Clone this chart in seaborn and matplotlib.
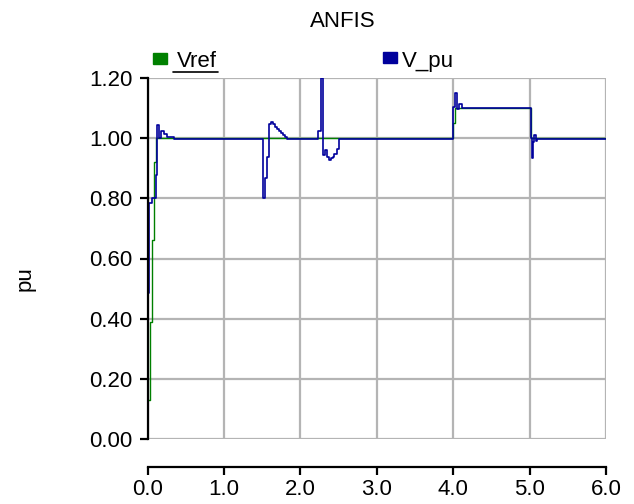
import numpy as np
import seaborn as sns
import matplotlib.pyplot as plt
from matplotlib.patches import Rectangle
from matplotlib.lines import Line2D

# reference voltage (pu) - step changes
t_ref = [0.0, 0.03, 0.055, 0.08, 0.105, 3.995, 4.02, 5.015, 6.0]
v_ref = [0.13, 0.39, 0.66, 0.92, 1.00, 1.05, 1.10, 1.00, 1.00]

t_pu = [0.0, 0.024, 0.055, 0.107, 0.128, 0.15, 0.18, 0.21, 0.26, 0.35,
        1.516, 1.542, 1.568, 1.594, 1.62, 1.645, 1.67, 1.695, 1.72, 1.745,
        1.77, 1.795, 1.82,
        2.236, 2.267, 2.296, 2.323, 2.345, 2.371, 2.402, 2.424, 2.445,
        2.476, 2.507, 2.533,
        4.003, 4.03, 4.045, 4.07, 4.12,
        5.015, 5.03, 5.045, 5.06, 5.08, 5.1, 6.0]
v_pu = [0.484, 0.785, 0.80, 0.878, 1.045, 1.0, 1.024, 1.015, 1.005, 0.997,
        0.80, 0.867, 0.938, 1.047, 1.053, 1.047, 1.038, 1.031, 1.024, 1.016,
        1.01, 1.005, 0.997,
        1.024, 1.20, 0.944, 0.961, 0.939, 0.928, 0.933, 0.939, 0.947,
        0.963, 0.997, 0.997,
        1.105, 1.149, 1.096, 1.112, 1.10,
        1.0, 0.935, 0.988, 1.01, 0.99, 0.997, 0.997]

x_ticks = [0, 1, 2, 3, 4, 5, 6]
y_ticks = [0.0, 0.2, 0.4, 0.6, 0.8, 1.0, 1.2]

sns.set_style("white")
plt.rcParams['font.family'] = ['Liberation Sans Narrow', 'Liberation Sans', 'DejaVu Sans']
plt.rcParams['text.color'] = 'black'
plt.rcParams['axes.labelcolor'] = 'black'

FS = 16
W, H = 634, 504
fig = plt.figure(figsize=(W / 100, H / 100), dpi=100)
ax = fig.add_axes([147.5 / W, 1 - 439 / H, 458.5 / W, 361 / H])

sns.lineplot(x=t_ref, y=v_ref, ax=ax, color='#008000', lw=1.0,
             drawstyle='steps-post', estimator=None, sort=False)
sns.lineplot(x=t_pu, y=v_pu, ax=ax, color='#00009c', lw=1.2,
             drawstyle='steps-post', estimator=None, sort=False)

ax.set_xlim(0, 6)
ax.set_ylim(0, 1.2)
ax.set_xticks(x_ticks)
ax.set_xticklabels([f"{v:.1f}" for v in x_ticks])
ax.set_yticks(y_ticks)
ax.set_yticklabels([f"{v:.2f}" for v in y_ticks])
ax.grid(True, color='#b4b4b4', lw=1.6)
ax.set_axisbelow(True)

for s in ['top', 'right']:
    ax.spines[s].set_visible(False)
for s in ['left', 'bottom']:
    ax.spines[s].set_color('black')
    ax.spines[s].set_linewidth(1.6)
# x axis sits a little below the plot area (offset in points)
ax.spines['bottom'].set_position(('outward', 20))
ax.tick_params(direction='out', length=6, width=1.6, labelsize=FS,
               colors='black', left=True, bottom=True)
ax.tick_params(axis='y', pad=5)
ax.tick_params(axis='x', pad=2.5)

ax.set_xlabel('')
ax.set_ylabel('pu', fontsize=FS)
ax.yaxis.set_label_coords(-0.245, 0.443)
ax.set_title('ANFIS', fontsize=FS, x=0.426, pad=36.5)

# legend drawn as in the original tool
fig.add_artist(Rectangle((153 / W, 1 - 64 / H), 14 / W, 11 / H,
                         transform=fig.transFigure, color='#008000'))
fig.text(177 / W, 1 - 67 / H, 'Vref', fontsize=FS, va='baseline')
fig.add_artist(Line2D([173 / W, 218 / W], [1 - 72 / H] * 2,
                      transform=fig.transFigure, color='black', lw=1.2))
fig.add_artist(Rectangle((383 / W, 1 - 63 / H), 14 / W, 11 / H,
                         transform=fig.transFigure, color='#00009c'))
fig.text(402 / W, 1 - 67 / H, 'V_pu', fontsize=FS, va='baseline')

fig.savefig('out.png', dpi=100)
